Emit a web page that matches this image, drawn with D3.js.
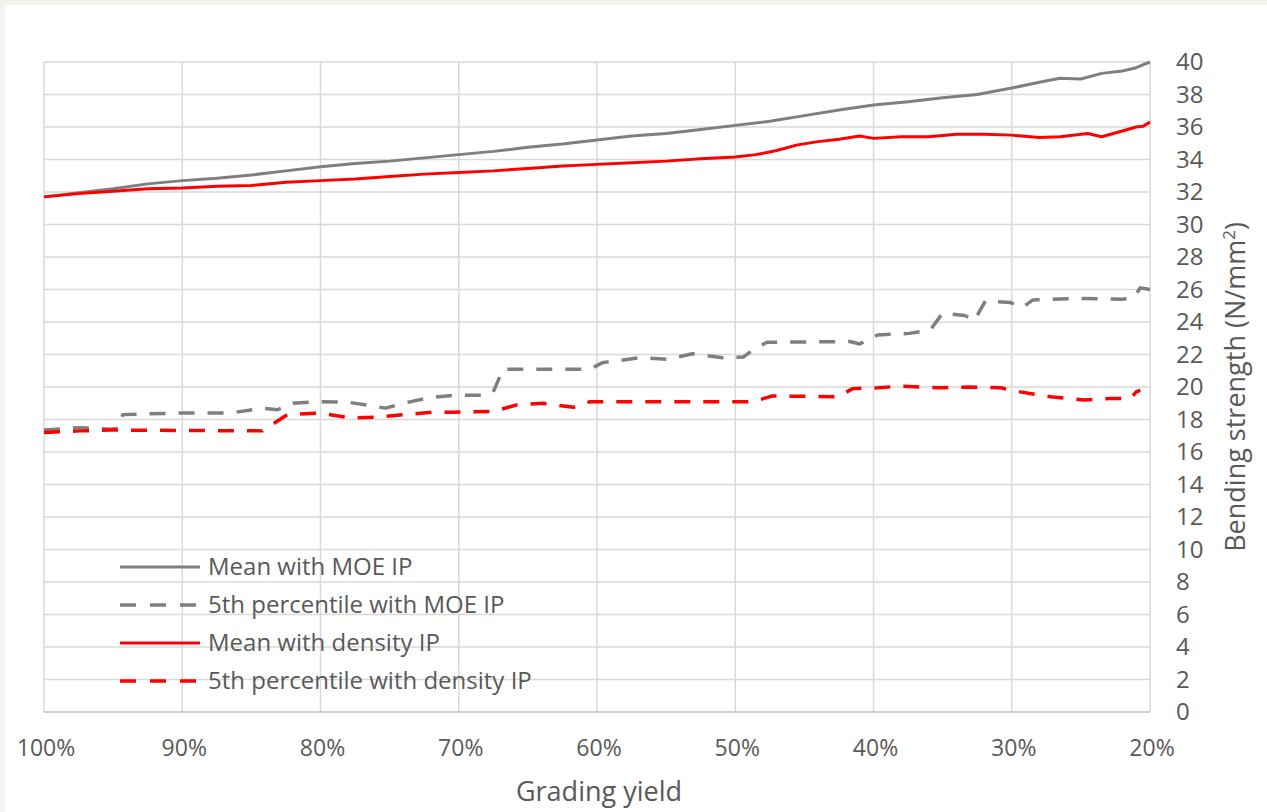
<!DOCTYPE html>
<html>
<head>
<meta charset="utf-8">
<script src="https://cdn.jsdelivr.net/npm/d3@7"></script>
<style>
  body { margin: 0; background: #f2f2ee; }
  svg { display: block; }
  text { font-family: "Open Sans", sans-serif; fill: #595959; }
</style>
</head>
<body>
<div id="chart"></div>
<script>
// Grading yield (%) vs bending strength (N/mm2)

const xTicks = [100, 90, 80, 70, 60, 50, 40, 30, 20];
const yTicks = d3.range(0, 41, 2);

// Mean with MOE IP
const meanMoeYield = [100, 97.5, 95, 92.5, 90, 87.5, 85, 82.5, 80, 77.5, 75, 72.5, 70, 67.5, 65, 62.5, 60,
  57.5, 55, 52.5, 50, 47.5, 45, 42.5, 40, 37.5, 35, 32.5, 30, 28, 26.5, 25, 23.5, 22, 21, 20];
const meanMoe = [31.7, 31.95, 32.2, 32.5, 32.7, 32.85, 33.05, 33.3, 33.55, 33.75, 33.9, 34.1, 34.3, 34.5, 34.75, 34.95, 35.2,
  35.45, 35.6, 35.85, 36.1, 36.35, 36.7, 37.05, 37.35, 37.55, 37.8, 38.0, 38.4, 38.75, 39.0, 38.95, 39.3, 39.45, 39.65, 40.0];

// 5th percentile with MOE IP
const p5MoeYield = [100, 97.4, 95.2, 94.6, 94.3, 90.2, 86.5, 84.2, 83.1, 82.0, 80.0, 77.9, 76.4, 75.3, 74.0, 72.1, 70.1,
  68.2, 67.5, 66.8, 60.5, 59.6, 56.9, 54.9, 53.1, 50.9, 49.4, 48.7, 47.7, 41.7, 41.0, 39.7, 37.4, 35.9, 35.0,
  33.4, 32.7, 31.9, 30.1, 29.2, 28.5, 25.1, 22.0, 21.2, 20.7, 20];
const p5Moe = [17.35, 17.5, 17.4, 17.45, 18.3, 18.4, 18.4, 18.7, 18.6, 19.0, 19.1, 19.05, 18.85, 18.7, 19.0, 19.35, 19.5,
  19.5, 19.7, 21.1, 21.1, 21.5, 21.8, 21.7, 22.05, 21.8, 21.85, 22.3, 22.75, 22.8, 22.65, 23.2, 23.3, 23.5, 24.55,
  24.4, 24.1, 25.3, 25.2, 24.9, 25.35, 25.45, 25.4, 25.5, 26.1, 26.0];

// Mean with density IP
const meanDenYield = [100, 97.5, 95, 92.5, 90, 87.5, 85, 82.5, 80, 77.5, 75, 72.5, 70, 67.5, 65, 62.5, 60,
  57.5, 55, 52.5, 50, 48.5, 47, 45.5, 44, 42.5, 41, 40, 38, 36, 34, 32, 30, 28, 26.5, 24.5, 23.5, 22, 21, 20.5, 20];
const meanDen = [31.7, 31.9, 32.05, 32.2, 32.25, 32.35, 32.4, 32.6, 32.7, 32.8, 32.95, 33.1, 33.2, 33.3, 33.45, 33.6, 33.7,
  33.8, 33.9, 34.05, 34.15, 34.3, 34.55, 34.9, 35.1, 35.25, 35.45, 35.3, 35.4, 35.4, 35.55, 35.55, 35.5, 35.35, 35.4, 35.6, 35.4, 35.75, 36.0, 36.05, 36.3];

// 5th percentile with density IP
const p5DenYield = [100, 97.4, 95.2, 84.2, 83.3, 82.4, 80.0, 77.9, 75.9, 71.9, 70.4, 67.5, 65.8, 63.9, 61.7, 60.5,
  48.7, 47.3, 42.6, 41.5, 39.7, 38.1, 35.2, 33.0, 30.8, 29.4, 27.2, 24.8, 22.7, 21.4, 21.0, 20.7];
const p5Den = [17.2, 17.3, 17.35, 17.3, 17.8, 18.3, 18.4, 18.1, 18.15, 18.45, 18.45, 18.5, 18.9, 19.0, 18.75, 19.1,
  19.1, 19.45, 19.4, 19.9, 19.95, 20.05, 19.95, 20.0, 19.95, 19.7, 19.4, 19.2, 19.3, 19.3, 19.7, 19.8];

const seriesNames = ['Mean with MOE IP', '5th percentile with MOE IP', 'Mean with density IP', '5th percentile with density IP'];
const seriesColors = ['#7f7f7f', '#7f7f7f', '#ff0000', '#ff0000'];
const seriesDashed = [false, true, false, true];

const W = 1267, H = 812;
const svg = d3.select('#chart').append('svg').attr('width', W).attr('height', H);

svg.append('rect').attr('width', W).attr('height', H).attr('fill', '#f2f2ee');
svg.append('rect').attr('x', 5).attr('y', 5).attr('width', W - 5).attr('height', H - 5).attr('fill', '#fff');

const x = d3.scaleLinear().domain([100, 20]).range([44, 1150]);
const y = d3.scaleLinear().domain([0, 40]).range([712, 62]);

// Grid
const grid = svg.append('g');
grid.selectAll('line.v')
    .data(xTicks)
    .join('line')
    .attr('class', 'v')
    .attr('x1', d => x(d)).attr('x2', d => x(d))
    .attr('y1', y(40)).attr('y2', y(0))
    .attr('stroke', '#d9d9d9').attr('stroke-width', 1.5);
grid.selectAll('line.h')
    .data(yTicks.filter(d => d > 0))
    .join('line')
    .attr('class', 'h')
    .attr('x1', x(100)).attr('x2', x(20))
    .attr('y1', d => y(d)).attr('y2', d => y(d))
    .attr('stroke', '#d9d9d9').attr('stroke-width', 1.5);
// baseline
svg.append('line')
    .attr('x1', x(100)).attr('x2', x(20))
    .attr('y1', y(0)).attr('y2', y(0))
    .attr('stroke', '#bfbfbf').attr('stroke-width', 1.5);

// X tick labels
svg.append('g').selectAll('text')
    .data(xTicks)
    .join('text')
    .attr('x', d => x(d) + 2)
    .attr('y', 756)
    .attr('text-anchor', 'middle')
    .attr('font-size', 23)
    .text(d => d + '%');

// Y tick labels (right side)
svg.append('g').selectAll('text')
    .data(yTicks)
    .join('text')
    .attr('x', 1176)
    .attr('y', d => y(d) + 8)
    .attr('font-size', 24)
    .text(d => d);

// Axis titles
svg.append('text')
    .attr('x', 599).attr('y', 801)
    .attr('text-anchor', 'middle')
    .attr('font-size', 27)
    .text('Grading yield');

const yTitle = svg.append('text')
    .attr('transform', 'translate(1245,387) rotate(-90)')
    .attr('text-anchor', 'middle')
    .attr('font-size', 27);
yTitle.append('tspan').text('Bending strength (N/mm');
yTitle.append('tspan').attr('font-size', 17).attr('dy', -10).text('2');
yTitle.append('tspan').attr('dy', 10).text(')');

// Lines
const line = d3.line()
    .x(d => x(d[0]))
    .y(d => y(d[1]));

const seriesData = [
  d3.zip(meanMoeYield, meanMoe),
  d3.zip(p5MoeYield, p5Moe),
  d3.zip(meanDenYield, meanDen),
  d3.zip(p5DenYield, p5Den)
];

svg.append('g').selectAll('path')
    .data(seriesData)
    .join('path')
    .attr('d', d => line(d))
    .attr('fill', 'none')
    .attr('stroke', (d, i) => seriesColors[i])
    .attr('stroke-width', (d, i) => seriesDashed[i] ? 3.5 : 3)
    .attr('stroke-dasharray', (d, i) => seriesDashed[i] ? '16,13' : null)
    .attr('stroke-linejoin', 'round');

// Legend
const legend = svg.append('g');
const legendItem = legend.selectAll('g')
    .data(seriesNames)
    .join('g')
    .attr('transform', (d, i) => `translate(120,${567 + i * 38})`);
legendItem.append('line')
    .attr('x1', 0).attr('x2', 80)
    .attr('stroke', (d, i) => seriesColors[i])
    .attr('stroke-width', (d, i) => seriesDashed[i] ? 3.5 : 3)
    .attr('stroke-dasharray', (d, i) => seriesDashed[i] ? '16,14' : null);
legendItem.append('text')
    .attr('x', 88)
    .attr('y', 8)
    .attr('font-size', 24)
    .text(d => d);
</script>
</body>
</html>
